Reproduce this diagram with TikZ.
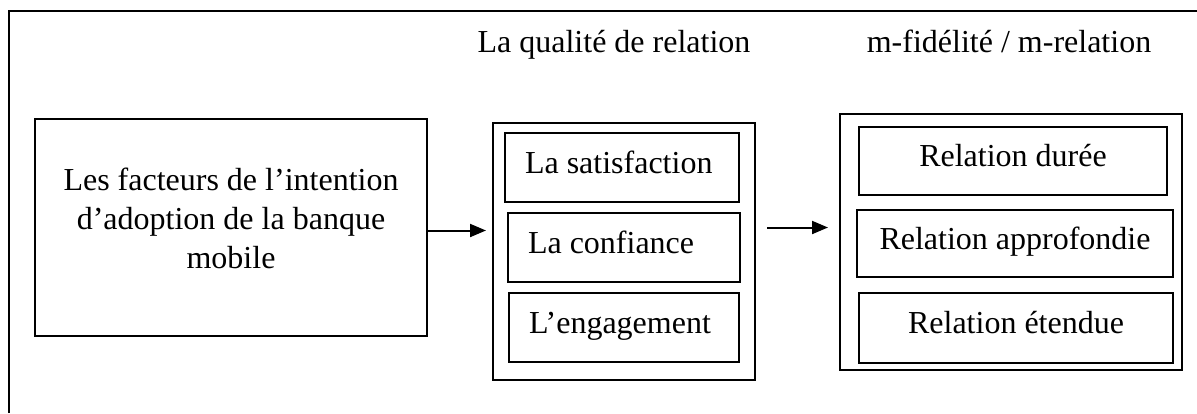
\documentclass[tikz,border=0pt]{standalone}
\usepackage{fontspec}
\setmainfont{Liberation Serif}
\usetikzlibrary{arrows.meta}

\begin{document}
\begin{tikzpicture}[x=0.5pt,y=-0.5pt,line width=1pt,font=\fontsize{16}{19.5}\selectfont,
    boite/.style={draw,inner sep=0pt,text height=0.7em,text depth=0.15em},
    fleche/.style={-{Triangle[length=8pt,width=6.5pt]}}];
      \useasboundingbox(0,0)rectangle(1197,413);
      \draw(9,413)--(9,11)--(1197,11); %frame, open at right and bottom
      \node[anchor=base](LQ) at (614,52){La qualité de relation};
      \node[anchor=base](LM) at (1009,52){m-fidélité / m-relation};
      \node[draw,inner sep=0pt,minimum width=196pt,minimum height=108.5pt,align=center](F) at (231,227.5)
        {Les facteurs de l’intention\\d’adoption de la banque\\mobile\rule[-9.5pt]{0pt}{9.5pt}};
      \begin{scope}
        \node[draw,inner sep=0pt,minimum width=131pt,minimum height=128.5pt](Q) at (624,251.5){};
        \node[boite,inner xsep=10pt,text width=97pt,align=flush left,minimum height=34.5pt](S) at (622,167.5){La satisfaction};
        \node[boite,inner xsep=10pt,text width=96pt,align=flush left,minimum height=34.5pt](C) at (624,247.5){La confiance};
        \node[boite,inner xsep=10pt,text width=95pt,align=flush left,minimum height=34.5pt](E) at (624,327.5){L’engagement};
      \end{scope}
      \begin{scope}
        \node[draw,inner sep=0pt,minimum width=171pt,minimum height=128pt](M) at (1011,242){};
        \node[boite,minimum width=154pt,minimum height=34pt](D) at (1013,161){Relation durée};
        \node[boite,minimum width=158pt,minimum height=33.5pt](P) at (1015,243.5){Relation approfondie};
        \node[boite,minimum width=157pt,minimum height=35pt](T) at (1016,328){Relation étendue};
      \end{scope}
      \coordinate(a) at ([yshift=-1.5pt]F.east);
      \draw[fleche,shorten >=3pt](a)--(a-|Q.west);
      \draw[fleche,shorten <=5.5pt,shorten >=5.5pt](Q.east|-F.east)--(M.west|-F.east);
\end{tikzpicture}
\end{document}
